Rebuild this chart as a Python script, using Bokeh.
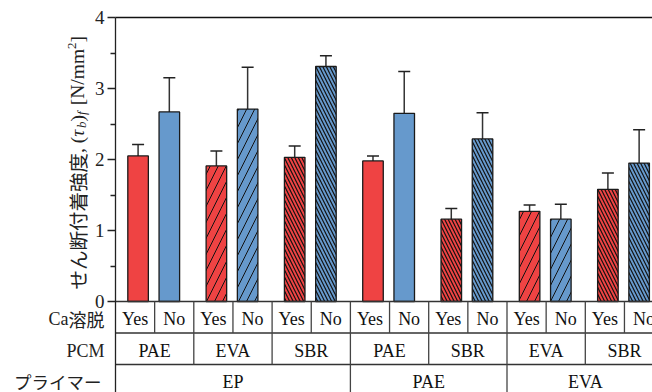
import math
from bokeh.plotting import figure
from bokeh.models import Range1d, FixedTicker, LinearAxis, Whisker, ColumnDataSource, TeeHead
from bokeh.embed import file_html
from bokeh.resources import INLINE
from bokeh.core.properties import value

# ---------------- data ----------------
primers = ["EP", "EP", "EP", "PAE", "PAE", "EVA", "EVA"]
pcms = ["PAE", "EVA", "SBR", "PAE", "SBR", "EVA", "SBR"]
ca_states = ["Yes", "No"]
yes_vals = [2.05, 1.91, 2.03, 1.98, 1.16, 1.27, 1.58]
yes_err = [0.16, 0.21, 0.16, 0.07, 0.15, 0.09, 0.23]
no_vals = [2.67, 2.71, 3.31, 2.65, 2.29, 1.16, 1.95]
no_err = [0.48, 0.59, 0.15, 0.59, 0.37, 0.21, 0.47]
y_ticks = [0, 1, 2, 3, 4]
y_minor = [0.5, 1.5, 2.5, 3.5]

# ---------------- layout ----------------
W, H = 652, 392
LEFT, TOP = 115, 17
COLW = 39.15        # px per column
PPU = 71.0          # px per y unit
ROWH = 31.5 / PPU   # table row height in data units
x_start = -LEFT / COLW
x_end = (W - LEFT) / COLW
y_max = 4.0
y_top = y_max + TOP / PPU
y_start = y_max - (H - TOP) / PPU

RED = "#EF4343"
BLUE = "#6699CC"
EDGE = "#1a1a1a"
hatch_of = {"PAE": " ", "EVA": "/", "SBR": "\\"}
hscale_of = {"PAE": 16, "EVA": 16, "SBR": 7}
hweight_of = {"PAE": 1.0, "EVA": 1.0, "SBR": 1.2}

SERIF = "Liberation Serif"
CJK = "Noto Sans CJK JP"
TXT = "#222222"


def px_x(px):
    return (px - LEFT) / COLW


def px_y(py):
    return y_max - (py - TOP) / PPU


p = figure(width=W, height=H, output_backend="svg", toolbar_location=None,
           x_range=Range1d(x_start, x_end), y_range=Range1d(y_start, y_top),
           x_axis_location=None, y_axis_location=None, min_border=0,
           background_fill_color="white", border_fill_color="white",
           outline_line_color=None)
p.grid.visible = False


def put(xpx, ypx, txt, font, size, style="normal", align="left", angle=0.0):
    p.text(x=[px_x(xpx)], y=[px_y(ypx)], text=[txt], angle=angle,
           text_align=align, text_baseline="middle",
           text_font=value(font), text_font_style=style,
           text_font_size=f"{size}px", text_color=TXT)


yax = LinearAxis(fixed_location=0, bounds=(y_start, y_max),
                 ticker=FixedTicker(ticks=y_ticks, minor_ticks=y_minor))
yax.major_tick_out = 8
yax.major_tick_in = 0
yax.minor_tick_out = 5
yax.minor_tick_in = 0
yax.axis_line_color = "#222222"
yax.axis_line_width = 1.3
yax.major_tick_line_color = "#222222"
yax.major_tick_line_width = 1.3
yax.minor_tick_line_color = "#222222"
yax.minor_tick_line_width = 1.3
yax.major_label_text_font = SERIF
yax.major_label_text_font_size = "19px"
yax.major_label_text_color = TXT
yax.major_label_standoff = 3
p.add_layout(yax, "left")

# ---------------- bars ----------------
xs, tops, errs, cols, hatches, hscales, hweights = [], [], [], [], [], [], []
for g, pcm in enumerate(pcms):
    for j, (vals, es, c) in enumerate([(yes_vals, yes_err, RED), (no_vals, no_err, BLUE)]):
        xs.append(2 * g + (0.577 if j == 0 else 1.375))
        tops.append(vals[g])
        errs.append(es[g])
        cols.append(c)
        hatches.append(hatch_of[pcm])
        hscales.append(hscale_of[pcm])
        hweights.append(hweight_of[pcm])

src = ColumnDataSource(dict(x=xs, top=tops, color=cols, hatch=hatches,
                            hscale=hscales, hweight=hweights,
                            upper=[t + e for t, e in zip(tops, errs)]))

p.vbar(x="x", top="top", bottom=0, width=0.525, source=src,
       fill_color="color", line_color=EDGE, line_width=1.3,
       hatch_pattern="hatch", hatch_scale="hscale", hatch_weight="hweight",
       hatch_color="#111111")

p.add_layout(Whisker(source=src, base="x", lower="top", upper="upper",
                     line_color="#333333", line_width=1.5,
                     upper_head=TeeHead(size=12, line_color="#222222", line_width=1.5),
                     lower_head=None))

# top frame line
p.segment(x0=[0], y0=[y_max], x1=[x_end], y1=[y_max], line_color="#111111", line_width=1.5)

# ---------------- table ----------------
ncols = 2 * len(pcms)
r1, r2 = -ROWH, -2 * ROWH
p.segment(x0=[0, 0, 0], y0=[0, r1, r2], x1=[x_end] * 3, y1=[0, r1, r2],
          line_color="#333333", line_width=1.4)

vx, vy0, vy1 = [], [], []
for k in range(1, ncols):
    vx.append(k); vy0.append(0); vy1.append(r1)
for g in range(1, len(pcms)):
    vx.append(2 * g); vy0.append(r1); vy1.append(r2)
primer_spans = []
start = 0
for g in range(1, len(primers) + 1):
    if g == len(primers) or primers[g] != primers[start]:
        primer_spans.append((primers[start], 2 * start, 2 * g))
        if g < len(primers):
            vx.append(2 * g); vy0.append(r2); vy1.append(y_start)
        start = g
p.segment(x0=vx, y0=vy0, x1=vx, y1=vy1, line_color="#444444", line_width=1.3)

# table texts
tx, ty, tt = [], [], []
for k in range(ncols):
    tx.append(k + 0.5); ty.append(px_y(318)); tt.append(ca_states[k % 2])
for g, pcm in enumerate(pcms):
    tx.append(2 * g + 1); ty.append(px_y(350)); tt.append(pcm)
for name, a, b in primer_spans:
    tx.append((a + b) / 2); ty.append(px_y(381)); tt.append(name)
p.text(x=tx, y=ty, text=tt, text_align="center", text_baseline="middle",
       text_font=value(SERIF), text_font_size="18px", text_color="#111111")

# row titles (latin part in serif, Japanese part in CJK font)
RT = 18
put(104, 318, "溶脱", CJK, RT, align="right")
put(104 - 2 * RT, 318, "Ca", SERIF, RT, align="right")
put(104, 350, "PCM", SERIF, RT, align="right")
put(101, 381, "プライマー", CJK, 17.5, align="right")

# ---------------- y axis title (rotated, composed) ----------------
# (text, font, style, size, sideways shift px, leading gap px, advance px)
F, S = 19.5, 13.0
pieces = [
    ("せん断付着強度", CJK, "normal", F, 0, 0, 7 * F),
    (", (", SERIF, "normal", F, 0, 0, 0.833 * F),
    ("τ", SERIF, "italic", F, 0, 0, 0.45 * F),
    ("b", SERIF, "italic", S, 4, 0, 0.5 * S),
    (")", SERIF, "normal", F, 0, 0, 0.333 * F),
    ("f", SERIF, "italic", S, 4, 0, 0.28 * S + 1.2),
    ("[N/mm", SERIF, "normal", F, 0, 0.25 * F, 2.889 * F),
    ("2", SERIF, "normal", S, -6, 0, 0.5 * S),
    ("]", SERIF, "normal", F, 0, 0, 0.333 * F),
]
cx = 77.0
cy = 289.0
for txt, font, style, size, shift, gap, wpx in pieces:
    cy -= gap
    put(cx + shift, cy, txt, font, size, style=style, align="left", angle=math.pi / 2)
    cy -= wpx

open("out.html", "w").write(file_html(p, INLINE))
